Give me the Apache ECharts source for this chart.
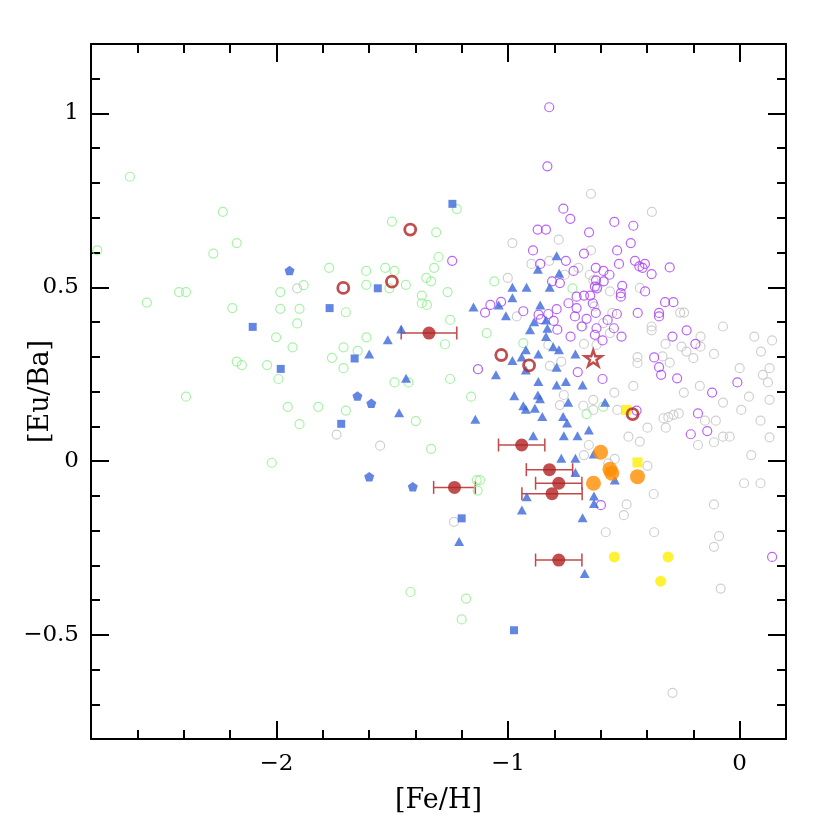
<!DOCTYPE html>
<html>
<head>
<meta charset="utf-8">
<title>[Eu/Ba] vs [Fe/H]</title>
<script src="https://cdn.jsdelivr.net/npm/echarts@6/dist/echarts.min.js"></script>
<style>
  html, body { margin: 0; padding: 0; background: #fff; }
  #chart { width: 830px; height: 830px; }
</style>
</head>
<body>
<div id="chart"></div>
<script>
// [Fe/H], [Eu/Ba] pairs

const grayCircles = [
  [-0.642, 0.769], [-0.981, 0.627], [-0.781, 0.637], [-0.642, 0.606], [-0.822, 0.576],
  [-0.899, 0.567], [-0.696, 0.556], [-0.647, 0.536], [-1.001, 0.527], [-0.755, 0.536],
  [-0.614, 0.502], [-0.431, 0.498], [-0.379, 0.717], [-0.632, 0.52], [-0.56, 0.488],
  [-0.55, 0.426], [-0.627, 0.445], [-0.678, 0.387], [-0.589, 0.397], [-0.56, 0.368],
  [-0.672, 0.337], [-0.38, 0.387], [-0.38, 0.376], [-0.257, 0.427], [-0.24, 0.427],
  [-0.072, 0.387], [0.063, 0.358], [0.14, 0.347], [0.092, 0.315], [-0.169, 0.358],
  [-0.32, 0.337], [-0.251, 0.329], [-0.23, 0.315], [-0.169, 0.329], [-0.111, 0.308],
  [-0.2, 0.296], [-0.441, 0.299], [-0.441, 0.282], [-0.333, 0.301], [-0.302, 0.283],
  [0.0, 0.267], [0.1, 0.248], [0.129, 0.267], [0.122, 0.226], [-0.172, 0.216],
  [-0.241, 0.197], [-0.459, 0.216], [-0.541, 0.197], [-0.072, 0.168], [0.04, 0.185],
  [0.129, 0.176], [0.007, 0.147], [0.09, 0.116], [-0.103, 0.116], [-0.15, 0.116],
  [-0.263, 0.137], [-0.286, 0.133], [-0.308, 0.126], [-0.329, 0.123], [-0.398, 0.096],
  [-0.319, 0.096], [-0.48, 0.07], [-0.632, 0.176], [-0.759, 0.19], [-0.77, 0.286],
  [-0.528, 0.147], [-0.072, 0.07], [-0.043, 0.07], [0.129, 0.068], [-0.431, 0.056],
  [-0.18, 0.046], [-0.111, 0.054], [0.05, 0.017], [-0.398, -0.014], [-0.371, -0.095],
  [0.019, -0.064], [0.09, -0.064], [-0.651, 0.046], [-0.672, 0.017], [-0.539, 0.006],
  [-0.488, -0.125], [-0.5, -0.156], [-0.578, -0.205], [-0.369, -0.205], [-0.111, -0.125],
  [-0.089, -0.216], [-0.111, -0.247], [-0.082, -0.367], [-0.29, -0.667], [-0.567, -0.007],
  [-1.91, 0.497], [-1.74, 0.076], [-1.552, 0.044], [-1.233, -0.175], [-1.128, 0.264],
  [-0.962, 0.416], [-0.826, 0.334], [-0.819, 0.274], [-0.618, 0.334], [-0.776, 0.161],
  [-0.675, 0.159], [-0.632, 0.147]
];

const greenCircles = [
  [-2.773, 0.606], [-2.632, 0.818], [-2.231, 0.717], [-2.171, 0.627], [-2.272, 0.597],
  [-1.772, 0.556], [-1.882, 0.506], [-1.983, 0.486], [-2.42, 0.486], [-2.39, 0.486],
  [-2.559, 0.456], [-2.19, 0.44], [-1.983, 0.438], [-1.9, 0.438], [-1.70, 0.428],
  [-1.91, 0.396], [-2.001, 0.356], [-1.93, 0.327], [-1.76, 0.297], [-2.171, 0.286],
  [-2.149, 0.276], [-2.04, 0.276], [-1.991, 0.236], [-2.39, 0.185], [-1.951, 0.156],
  [-1.819, 0.156], [-1.9, 0.106], [-2.02, -0.005], [-1.501, 0.689], [-1.221, 0.725],
  [-1.31, 0.658], [-1.30, 0.587], [-1.319, 0.556], [-1.612, 0.547], [-1.53, 0.556],
  [-1.49, 0.547], [-1.612, 0.507], [-1.512, 0.497], [-1.441, 0.507], [-1.353, 0.527],
  [-1.332, 0.517], [-1.261, 0.486], [-1.372, 0.476], [-1.372, 0.454], [-1.35, 0.449],
  [-1.059, 0.517], [-0.722, 0.497], [-1.25, 0.406], [-1.611, 0.356], [-1.272, 0.336],
  [-1.092, 0.368], [-1.71, 0.327], [-1.649, 0.317], [-1.71, 0.267], [-1.49, 0.226],
  [-1.43, 0.226], [-1.25, 0.236], [-1.159, 0.185], [-1.70, 0.145], [-1.398, 0.115],
  [-1.332, 0.035], [-1.135, -0.055], [-1.121, -0.055], [-1.131, -0.085], [-1.421, -0.377],
  [-1.181, -0.396], [-1.2, -0.456], [-0.934, 0.339], [-0.661, 0.135], [-0.589, 0.156]
];

const purpleCircles = [
  [-0.822, 1.018], [-0.83, 0.848], [-0.761, 0.726], [-0.731, 0.697], [-0.872, 0.666],
  [-0.836, 0.666], [-0.65, 0.658], [-0.541, 0.688], [-0.459, 0.677], [-0.47, 0.627],
  [-0.892, 0.606], [-0.672, 0.597], [-0.529, 0.606], [-0.861, 0.567], [-0.75, 0.576],
  [-0.521, 0.567], [-0.452, 0.576], [-1.241, 0.576], [-0.717, 0.547], [-0.621, 0.556],
  [-0.588, 0.547], [-0.562, 0.536], [-0.81, 0.517], [-0.776, 0.512], [-0.625, 0.502],
  [-0.507, 0.504], [-0.513, 0.483], [-0.513, 0.473], [-0.704, 0.473], [-0.672, 0.476],
  [-0.645, 0.476], [-0.634, 0.454], [-0.739, 0.454], [-1.03, 0.458], [-1.076, 0.449],
  [-0.433, 0.56], [-0.409, 0.567], [-0.419, 0.556], [-0.38, 0.538], [-0.302, 0.557],
  [-0.587, 0.517], [-0.616, 0.497], [-0.408, 0.488], [-0.322, 0.457], [-0.286, 0.457],
  [-0.704, 0.44], [-0.711, 0.416], [-0.661, 0.409], [-0.621, 0.426], [-0.57, 0.406],
  [-0.44, 0.426], [-0.348, 0.426], [-0.348, 0.416], [-0.682, 0.387], [-0.73, 0.358],
  [-0.592, 0.347], [-0.51, 0.358], [-0.29, 0.358], [-0.229, 0.376], [-0.191, 0.337],
  [-0.369, 0.298], [-0.348, 0.27], [-0.339, 0.248], [-0.27, 0.238], [-0.699, 0.256],
  [-0.592, 0.236], [-0.119, 0.197], [-0.01, 0.226], [-0.18, 0.137], [-0.14, 0.086],
  [-0.211, 0.077], [-0.445, 0.145], [-0.934, 0.431], [-0.868, 0.421], [-0.858, 0.408],
  [-0.826, 0.423], [-0.803, 0.403], [-0.79, 0.437], [-0.787, 0.378], [-0.53, 0.423],
  [-0.543, 0.382], [-0.618, 0.382], [-0.625, 0.363], [-1.099, 0.427], [-1.13, 0.264],
  [-0.599, -0.127], [0.14, -0.276], [-0.62, 0.52]
];

const blueTriangles = [
  [-0.79, 0.591], [-0.871, 0.552], [-0.779, 0.54], [-0.981, 0.5], [-0.92, 0.5],
  [-0.82, 0.5], [-0.981, 0.47], [-1.04, 0.449], [-1.149, 0.443], [-0.861, 0.449],
  [-1.009, 0.418], [-0.887, 0.401], [-0.836, 0.406], [-0.905, 0.378], [-0.83, 0.382],
  [-0.836, 0.358], [-0.923, 0.32], [-0.869, 0.308], [-0.805, 0.329], [-0.78, 0.32],
  [-0.709, 0.308], [-0.981, 0.289], [-0.941, 0.299], [-1.052, 0.248], [-0.79, 0.27],
  [-0.923, 0.262], [-0.869, 0.229], [-0.75, 0.229], [-0.79, 0.219], [-0.678, 0.219],
  [-0.973, 0.188], [-0.871, 0.19], [-0.862, 0.179], [-0.74, 0.169], [-0.934, 0.159],
  [-0.923, 0.149], [-0.884, 0.152], [-0.581, 0.169], [-0.852, 0.128], [-0.762, 0.128],
  [-0.745, 0.109], [-0.651, 0.089], [-0.891, 0.073], [-0.759, 0.073], [-0.70, 0.073],
  [-0.77, 0.008], [-0.709, 0.008], [-0.709, -0.033], [-0.539, -0.055], [-0.629, -0.101],
  [-0.629, -0.122], [-0.919, -0.103], [-0.94, -0.141], [-0.678, -0.163], [-0.669, -0.324],
  [-1.461, 0.38], [-1.519, 0.349], [-1.599, 0.308], [-1.44, 0.238], [-1.47, 0.139],
  [-1.141, 0.12], [-1.211, -0.232], [-0.63, 0.02]
];

const blueSquares = [
  [-2.102, 0.386], [-1.981, 0.265], [-1.77, 0.44], [-1.72, 0.107], [-1.662, 0.295],
  [-1.562, 0.497], [-1.24, 0.74], [-1.2, -0.165], [-0.974, -0.487]
];

const bluePentagons = [
  [-1.943, 0.548], [-1.65, 0.187], [-1.59, 0.166], [-1.599, -0.045], [-1.411, -0.074]
];

const yellowCircles = [[-0.541, -0.276], [-0.309, -0.276], [-0.341, -0.346]];
const yellowSquares = [[-0.49, 0.147], [-0.441, -0.004]];

const orangeCircles = [
  [-0.60, 0.025], [-0.56, -0.024], [-0.552, -0.035], [-0.631, -0.064], [-0.441, -0.045]
];

// [Fe/H], [Eu/Ba], +/- error in [Fe/H]
const redPoints = [
  [-1.341, 0.368, 0.12], [-0.941, 0.046, 0.10], [-0.821, -0.025, 0.10], [-0.781, -0.064, 0.10],
  [-0.81, -0.094, 0.13], [-0.781, -0.285, 0.10], [-1.231, -0.076, 0.09]
];

const redOpenCircles = [
  [-1.711, 0.498], [-1.501, 0.516], [-1.422, 0.666], [-1.029, 0.305], [-0.909, 0.275], [-0.462, 0.135]
];

const redStar = [[-0.632, 0.296]];

const xTicks = [-2, -1, 0];
const yTicks = [-0.5, 0, 0.5, 1];

const FONT = "'DejaVu Serif', 'Liberation Serif', serif";
const NONE = 'rgba(0,0,0,0)';

const PENTAGON = 'path://M0,-1L0.951,-0.309L0.588,0.809L-0.588,0.809L-0.951,-0.309Z';
const STAR = 'path://M0,-1L0.225,-0.309L0.951,-0.309L0.363,0.118L0.588,0.809L0,0.382L-0.588,0.809L-0.363,0.118L-0.951,-0.309L-0.225,-0.309Z';

function fmt(v, ticks) {
  if (!ticks.some((t) => Math.abs(t - v) < 1e-9)) return '';
  return String(v).replace('-', '\u2212');
}

function openCircles(data, color) {
  return {
    type: 'scatter',
    data,
    symbol: 'circle',
    symbolSize: 9,
    itemStyle: { color: NONE, borderColor: color, borderWidth: 1.2 },
    silent: true,
  };
}

function filled(data, symbol, size, color) {
  return {
    type: 'scatter',
    data,
    symbol,
    symbolSize: size,
    symbolKeepAspect: true,
    itemStyle: { color },
    silent: true,
  };
}

const axisBase = {
  type: 'value',
  axisLine: { show: true, onZero: false, lineStyle: { color: '#000', width: 2 } },
  axisTick: { show: true, inside: true, length: 18, lineStyle: { color: '#000', width: 2 } },
  minorTick: { show: true, splitNumber: 5, length: 9, lineStyle: { color: '#000', width: 2 } },
  splitLine: { show: false },
  minorSplitLine: { show: false },
};

const xBase = { ...axisBase, min: -2.8, max: 0.2, splitNumber: 3 };
const yBase = { ...axisBase, min: -0.8, max: 1.2, splitNumber: 4 };

const option = {
  animation: false,
  backgroundColor: '#fff',
  grid: { left: 91, right: 44, top: 44, bottom: 91, containLabel: false, outerBoundsMode: 'none' },
  xAxis: [
    {
      ...xBase,
      position: 'bottom',
      name: '[Fe/H]',
      nameLocation: 'middle',
      nameGap: 48,
      nameMoveOverlap: false,
      nameTextStyle: { fontFamily: FONT, fontSize: 27, color: '#000' },
      axisLabel: { margin: 14, fontFamily: FONT, fontSize: 23, color: '#000', formatter: (v) => fmt(v, xTicks) },
    },
    { ...xBase, position: 'top', axisLabel: { show: false } },
  ],
  yAxis: [
    {
      ...yBase,
      position: 'left',
      name: '[Eu/Ba]',
      nameLocation: 'middle',
      nameGap: 37,
      nameMoveOverlap: false,
      nameTextStyle: { fontFamily: FONT, fontSize: 27, color: '#000' },
      axisLabel: { margin: 12, fontFamily: FONT, fontSize: 23, color: '#000', formatter: (v) => fmt(v, yTicks) },
    },
    { ...yBase, position: 'right', axisLabel: { show: false } },
  ],
  series: [
    openCircles(grayCircles, '#c4c4c4'),
    openCircles(greenCircles, '#8ef08e'),
    openCircles(purpleCircles, '#a93cf2'),
    filled(blueTriangles, 'triangle', [10, 9], '#3c68dc'),
    filled(blueSquares, 'rect', 8, '#3c68dc'),
    filled(bluePentagons, PENTAGON, 10, '#3c68dc'),
    filled(yellowSquares, 'rect', 10, '#ffee00'),
    filled(yellowCircles, 'circle', 11, '#ffee00'),
    filled(orangeCircles, 'circle', 15, '#ff8c00'),
    {
      type: 'custom',
      data: redPoints,
      silent: true,
      renderItem(params, api) {
        const y = api.value(1);
        const err = api.value(2);
        const lo = api.coord([api.value(0) - err, y]);
        const hi = api.coord([api.value(0) + err, y]);
        const style = { stroke: '#c44848', lineWidth: 1.5 };
        const cap = 6.5;
        return {
          type: 'group',
          children: [
            { type: 'line', shape: { x1: lo[0], y1: lo[1], x2: hi[0], y2: hi[1] }, style },
            { type: 'line', shape: { x1: lo[0], y1: lo[1] - cap, x2: lo[0], y2: lo[1] + cap }, style },
            { type: 'line', shape: { x1: hi[0], y1: hi[1] - cap, x2: hi[0], y2: hi[1] + cap }, style },
          ],
        };
      },
    },
    filled(redPoints.map((p) => [p[0], p[1]]), 'circle', 13, '#b02222'),
    {
      type: 'scatter',
      data: redOpenCircles,
      symbol: 'circle',
      symbolSize: 11,
      itemStyle: { color: NONE, borderColor: '#b02222', borderWidth: 2.8 },
      silent: true,
    },
    {
      type: 'scatter',
      data: redStar,
      symbol: STAR,
      symbolSize: 17,
      symbolKeepAspect: true,
      itemStyle: { color: NONE, borderColor: '#b02222', borderWidth: 2.4 },
      silent: true,
    },
  ],
};

echarts.init(document.getElementById('chart'), null, { renderer: 'canvas' }).setOption(option);
</script>
</body>
</html>
